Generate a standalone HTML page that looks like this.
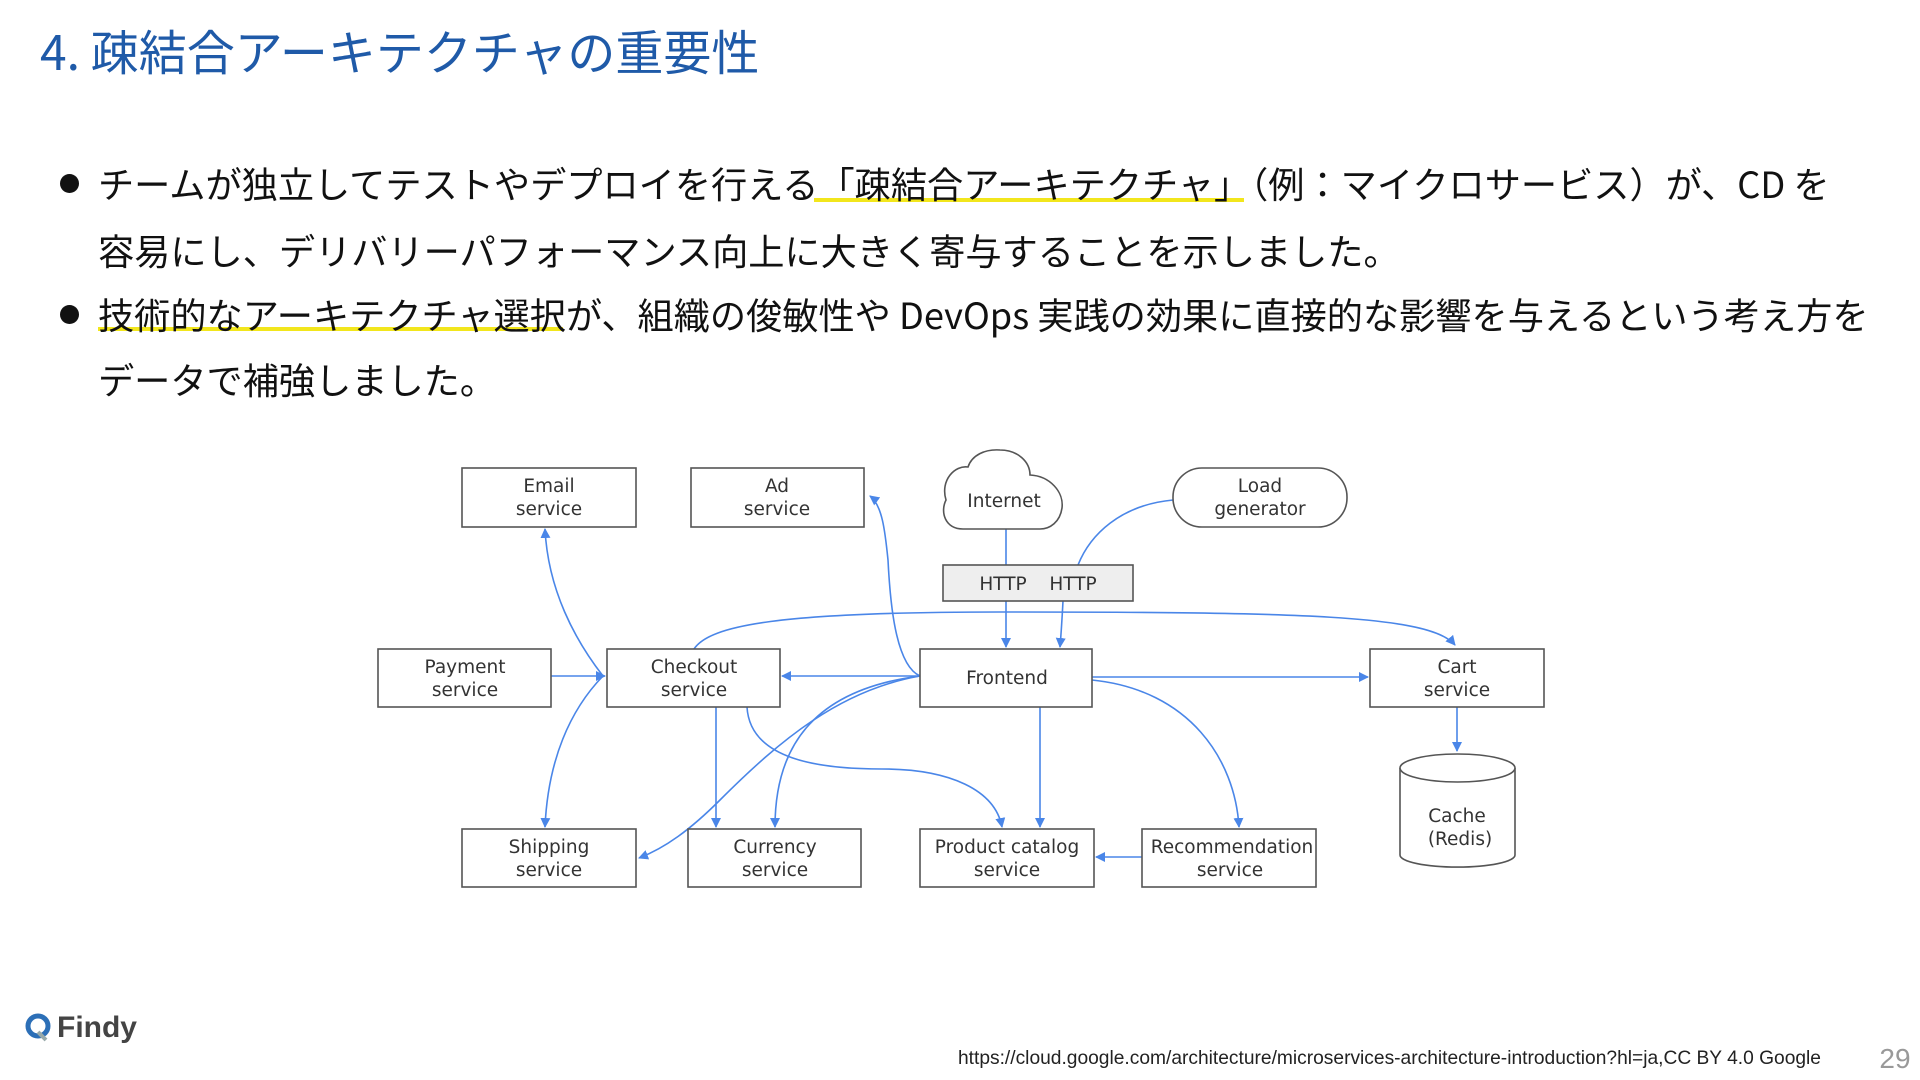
<!DOCTYPE html>
<html><head><meta charset="utf-8"><style>
html,body{margin:0;padding:0;background:#fff;}
body{width:1920px;height:1080px;position:relative;overflow:hidden;font-family:"Liberation Sans","Noto Sans CJK JP",sans-serif;}
.t{position:absolute;white-space:nowrap;}
.title{left:40px;top:14px;font-size:48px;color:#1f5aa8;font-family:"Noto Sans CJK JP",sans-serif;}
.b{font-size:36.2px;color:#111;font-family:"Noto Sans CJK JP",sans-serif;}
.dot{position:absolute;width:19px;height:19px;border-radius:50%;background:#111;}
.hl{position:absolute;height:4px;background:#f2e61c;}
svg text{font-family:"DejaVu Sans",sans-serif;font-size:18.5px;fill:#333;text-anchor:middle;}
</style></head><body>
<div class="t title">4. 疎結合アーキテクチャの重要性</div>

<div class="hl" style="left:814px;top:198px;width:430px"></div>
<div class="hl" style="left:98px;top:327px;width:465px"></div>
<div class="dot" style="left:60px;top:174px"></div>
<div class="dot" style="left:60px;top:305px"></div>
<div class="t b" style="left:98px;top:157px">チームが独立してテストやデプロイを行える「疎結合アーキテクチャ」（例：マイクロサービス）が、CD を</div>
<div class="t b" style="left:98px;top:224px">容易にし、デリバリーパフォーマンス向上に大きく寄与することを示しました。</div>
<div class="t b" style="left:98px;top:288px">技術的なアーキテクチャ選択が、組織の俊敏性や DevOps 実践の効果に直接的な影響を与えるという考え方を</div>
<div class="t b" style="left:98px;top:353px">データで補強しました。</div>

<svg width="1920" height="1080" style="position:absolute;left:0;top:0">
<defs><marker id="a" markerWidth="10" markerHeight="10" refX="9" refY="5" orient="auto" markerUnits="userSpaceOnUse"><path d="M0,0 L10,5 L0,10 z" fill="#4a86e8"/></marker></defs>
<g fill="none" stroke="#4a86e8" stroke-width="1.6">
<path d="M1006 529 V565"/>
<path d="M1006 601 V647" marker-end="url(#a)"/>
<path d="M1173 500 C1120 505 1090 535 1078 565"/>
<path d="M1063 601 C1062 620 1061 635 1060 647" marker-end="url(#a)"/>
<path d="M920 676 H782" marker-end="url(#a)"/>
<path d="M551 676 H605" marker-end="url(#a)"/>
<path d="M603 676 C575 640 548 590 545 529" marker-end="url(#a)"/>
<path d="M603 676 C570 710 548 760 545 827" marker-end="url(#a)"/>
<path d="M920 676 C895 665 890 600 888 560 C885 530 882 505 870 496" marker-end="url(#a)"/>
<path d="M694 649 C710 625 780 612 1000 612 C1300 612 1430 615 1455 645" marker-end="url(#a)"/>
<path d="M1092 677 H1368" marker-end="url(#a)"/>
<path d="M1457 707 V751" marker-end="url(#a)"/>
<path d="M716 707 V827" marker-end="url(#a)"/>
<path d="M920 676 C810 690 775 750 775 827" marker-end="url(#a)"/>
<path d="M920 676 C840 690 780 740 720 800 C690 830 665 848 639 858" marker-end="url(#a)"/>
<path d="M747 707 C750 760 820 769 882 769 C950 769 995 790 1002 827" marker-end="url(#a)"/>
<path d="M1040 707 V827" marker-end="url(#a)"/>
<path d="M1092 680 C1190 690 1235 760 1239 827" marker-end="url(#a)"/>
<path d="M1142 857 H1096" marker-end="url(#a)"/>
</g>
<g fill="#fff" stroke="#555" stroke-width="1.6">
<rect x="462" y="468" width="174" height="59"/>
<rect x="691" y="468" width="173" height="59"/>
<rect x="1173" y="468" width="174" height="59" rx="29"/>
<path d="M963 529 C945 529 940 512 946 500 C940 480 955 465 968 467 C972 455 985 449 1000 450 C1018 450 1030 462 1030 475 C1050 476 1064 492 1062 508 C1060 522 1050 529 1040 529 Z"/>
<rect x="943" y="565" width="190" height="36" fill="#eeeeee"/>
<rect x="378" y="649" width="173" height="58"/>
<rect x="607" y="649" width="173" height="58"/>
<rect x="920" y="649" width="172" height="58"/>
<rect x="1370" y="649" width="174" height="58"/>
<rect x="462" y="829" width="174" height="58"/>
<rect x="688" y="829" width="173" height="58"/>
<rect x="920" y="829" width="174" height="58"/>
<rect x="1142" y="829" width="174" height="58"/>
<path d="M1400 768 V855 A57 12 0 0 0 1515 855 V768"/>
<ellipse cx="1457.5" cy="768" rx="57.5" ry="14"/>
</g>
<text x="549" y="492">Email</text><text x="549" y="515">service</text>
<text x="777" y="492">Ad</text><text x="777" y="515">service</text>
<text x="1260" y="492">Load</text><text x="1260" y="515">generator</text>
<text x="1004" y="507">Internet</text>
<text x="1003" y="590">HTTP</text><text x="1073" y="590">HTTP</text>
<text x="465" y="673">Payment</text><text x="465" y="696">service</text>
<text x="694" y="673">Checkout</text><text x="694" y="696">service</text>
<text x="1007" y="684">Frontend</text>
<text x="1457" y="673">Cart</text><text x="1457" y="696">service</text>
<text x="1457" y="822">Cache</text><text x="1460" y="845">(Redis)</text>
<text x="549" y="853">Shipping</text><text x="549" y="876">service</text>
<text x="775" y="853">Currency</text><text x="775" y="876">service</text>
<text x="1007" y="853">Product catalog</text><text x="1007" y="876">service</text>
<text x="1232" y="853">Recommendation</text><text x="1230" y="876">service</text>
<g>
<circle cx="38" cy="1026" r="10" fill="none" stroke="#2c6fb7" stroke-width="5"/>
<path d="M38 1032 L46 1040" stroke="#9aa" stroke-width="4"/>
</g>
<text x="57" y="1037" style="text-anchor:start;font-family:'Liberation Sans',sans-serif;font-weight:bold;font-size:30px;fill:#444">Findy</text>
<text x="958" y="1064" style="text-anchor:start;font-family:'Liberation Sans',sans-serif;font-size:19.2px;fill:#222">https://cloud.google.com/architecture/microservices-architecture-introduction?hl=ja,CC BY 4.0 Google</text>
<text x="1895" y="1068" style="font-family:'Liberation Sans',sans-serif;font-size:28px;fill:#999">29</text>
</svg>
</body></html>
